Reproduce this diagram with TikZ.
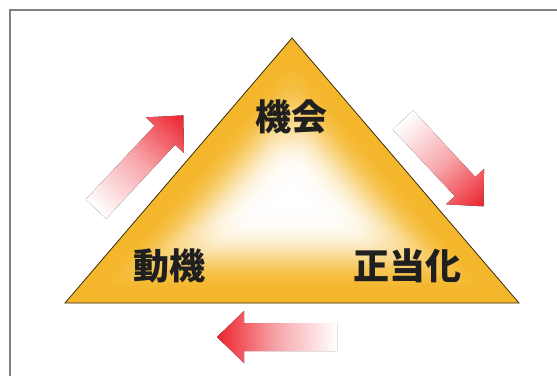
\documentclass[tikz,border=0pt]{standalone}
\usepackage{fontspec}
\usepackage{tikz}
\newfontfamily\jpfont{Noto Sans CJK JP}

\definecolor{triorange}{RGB}{244,182,42}
\definecolor{arrowred}{RGB}{236,34,44}
\definecolor{framegray}{RGB}{128,128,128}
\definecolor{edgebrown}{RGB}{60,44,12}

\begin{document}
\begin{tikzpicture}[x=1pt,y=-1pt,
	factortext/.style={font=\jpfont\bfseries\fontsize{36}{40}\selectfont,text=black!88,inner sep=0pt},
	outerframe/.style={draw=framegray,line width=2pt},
	triedge/.style={draw=edgebrown,line width=0.8pt,line join=miter},
	fadearrow/.style={left color=white,right color=arrowred,middle color=arrowred!40!white}]
	\useasboundingbox[fill=white] (0,0) rectangle (557,376);
	\draw[outerframe] (557,10) -- (10,10) -- (10,376);

	\coordinate (peak) at (292,38);
	\coordinate (lowleft) at (65,303);
	\coordinate (lowright) at (519,303);
	\coordinate (incenter) at (292,198.5);

% glow from the edges to the centre
\begin{scope}
	\clip (peak) -- (lowleft) -- (lowright) -- cycle;
\foreach \d in {0,2,...,96}{
	\pgfmathsetmacro\s{1-\d/104.5}
	\pgfmathsetmacro\p{100*exp(-(\d/52)*(\d/52)*(\d/52))}
	\pgfmathsetmacro\r{min(0.7*\d,80*\s)}
	\fill[triorange!\p!white,shift={(incenter)},scale=\s,rounded corners=\r] (0,-160.5) -- (-227,104.5) -- (227,104.5) -- cycle;
}
\end{scope}
	\draw[triedge] (peak) -- (lowleft) -- (lowright) -- cycle;

	\node[factortext] (chance) at (291,117) {機会};
	\node[factortext] (motive) at (169,266) {動機};
	\node[factortext] (excuse) at (407,266) {正当化};

	\coordinate (riseTail) at (96,209);
	\coordinate (fallTail) at (403,120);
	\coordinate (backTail) at (337,337);

\fill[fadearrow,transform canvas={shift={(riseTail)},rotate=47}] (0,-14) -- (101,-14) -- (101,-26) -- (128,0) -- (101,26) -- (101,14) -- (0,14) -- cycle;
\fill[fadearrow,transform canvas={shift={(fallTail)},rotate=-47}] (0,-14) -- (91,-14) -- (91,-26) -- (118,0) -- (91,26) -- (91,14) -- (0,14) -- cycle;
\fill[fadearrow,transform canvas={shift={(backTail)},rotate=180}] (0,-14) -- (93,-14) -- (93,-26) -- (120,0) -- (93,26) -- (93,14) -- (0,14) -- cycle;

\end{tikzpicture}
\end{document}
